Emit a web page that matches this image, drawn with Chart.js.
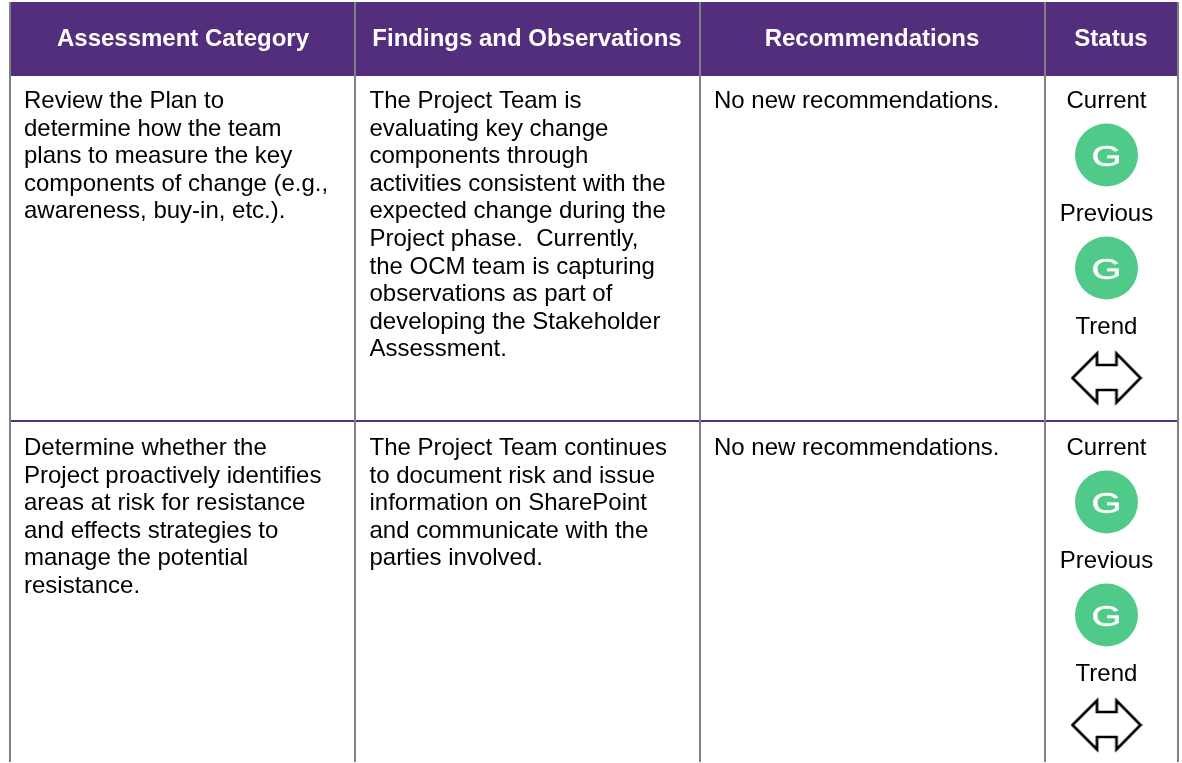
<!DOCTYPE html>
<html><head><meta charset="utf-8">
<style>html,body{margin:0;padding:0;background:#fff;overflow:hidden}canvas{display:block}</style>
<script src="https://cdn.jsdelivr.net/npm/chart.js@4"></script>
</head><body><canvas id="c" width="1182" height="763"></canvas>
<script>
// DATA
const headers = ["Assessment Category","Findings and Observations","Recommendations","Status"];
const assessment = [
 ["Review the Plan to","determine how the team","plans to measure the key","components of change (e.g.,","awareness, buy-in, etc.)."],
 ["Determine whether the","Project proactively identifies","areas at risk for resistance","and effects strategies to","manage the potential","resistance."]
];
const findings = [
 ["The Project Team is","evaluating key change","components through","activities consistent with the","expected change during the","Project phase.  Currently,","the OCM team is capturing","observations as part of","developing the Stakeholder","Assessment."],
 ["The Project Team continues","to document risk and issue","information on SharePoint","and communicate with the","parties involved."]
];
const recommendations = [["No new recommendations."],["No new recommendations."]];
const statusLabels = ["Current","Previous","Trend"];
const currentStatus = ["G","G"];
const previousStatus = ["G","G"];
const trendStatus = ["flat","flat"];

// LAYOUT
const columnEdges = [10,355,700,1045,1178];
const textLeft = [24,369.5,714];
const statusX = 1106.5;
const headerTop = 2, headerBottom = 75;
const rowLines = [75,420.5];
const rowTextTop = [108,455];
const lineStep = 27.6;
const slotLabel = [0,113,226];
const slotMark = [47,160,270];
const font = '"Liberation Sans", Arial, sans-serif';
const purple = '#522E7D', gray = '#808080', green = '#50CA88';

function arrowCanvas(){
  const c=document.createElement('canvas');c.width=72;c.height=56;
  const g=c.getContext('2d');g.strokeStyle='#000';g.lineWidth=2.7;g.lineJoin='miter';
  g.beginPath();
  [[2,28],[26.5,3.5],[26.5,15],[46,15],[46,3.5],[70,28],[46,52.5],[46,40],[26.5,40],[26.5,52.5]]
    .forEach((p,i)=>i?g.lineTo(p[0],p[1]):g.moveTo(p[0],p[1]));
  g.closePath();g.stroke();return c;
}
const circlePts = [], arrowPts = [];
rowTextTop.forEach((t,i)=>{
  if(currentStatus[i]) circlePts.push({x:statusX,y:t+slotMark[0],l:currentStatus[i]});
  if(previousStatus[i]) circlePts.push({x:statusX,y:t+slotMark[1],l:previousStatus[i]});
  if(trendStatus[i]) arrowPts.push({x:statusX,y:t+slotMark[2]});
});

const tablePlugin = {
  id:'table',
  beforeDatasetsDraw(ch){
    const {ctx,scales:{x,y}}=ch;
    ctx.save();ctx.fillStyle=purple;
    const x0=x.getPixelForValue(columnEdges[0]),x1=x.getPixelForValue(columnEdges[4]);
    const y0=y.getPixelForValue(headerTop),y1=y.getPixelForValue(headerBottom);
    ctx.fillRect(x0,y0,x1-x0,y1-y0);ctx.restore();
  },
  afterDraw(ch){
    const {ctx,scales:{x,y}}=ch;
    ctx.save();ctx.textBaseline='alphabetic';
    ctx.font='bold 24px '+font;ctx.fillStyle='#fff';ctx.textAlign='center';
    const headerCenters=[183,527,872,1111];
    headers.forEach((h,i)=>{
      ctx.fillText(h,x.getPixelForValue(headerCenters[i]),y.getPixelForValue(46));
    });
    ctx.font='24px '+font;ctx.fillStyle='#000';ctx.textAlign='left';
    [assessment,findings,recommendations].forEach((col,ci)=>{
      col.forEach((lines,r)=>lines.forEach((s,k)=>{
        ctx.fillText(s,x.getPixelForValue(textLeft[ci]),y.getPixelForValue(rowTextTop[r]+k*lineStep));
      }));
    });
    ctx.textAlign='center';
    rowTextTop.forEach(t=>statusLabels.forEach((s,k)=>{
      ctx.fillText(s,x.getPixelForValue(statusX),y.getPixelForValue(t+slotLabel[k]));
    }));
    ctx.fillStyle='#fff';ctx.strokeStyle='#fff';ctx.lineWidth=0.5;ctx.font='31px '+font;
    circlePts.forEach(p=>{
      ctx.save();
      ctx.translate(x.getPixelForValue(p.x),y.getPixelForValue(p.y+11));
      ctx.scale(1.24,0.96);ctx.fillText(p.l,0,0);ctx.strokeText(p.l,0,0);ctx.restore();
    });
    ctx.restore();
  }
};

new Chart(document.getElementById('c'),{
  type:'scatter',
  data:{datasets:[
    {label:'Status',data:circlePts,pointStyle:'circle',pointRadius:31.5,pointHoverRadius:31.5,backgroundColor:green,borderWidth:0},
    {label:'Trend',data:arrowPts,pointStyle:arrowCanvas(),pointRadius:28}
  ]},
  options:{
    responsive:false,animation:false,events:[],
    layout:{autoPadding:false,padding:{left:10,right:4,top:2,bottom:1}},
    plugins:{legend:{display:false},tooltip:{enabled:false},title:{display:false}},
    scales:{
      x:{type:'linear',min:10,max:1178,
        afterBuildTicks(s){s.ticks=columnEdges.map(v=>({value:v}));},
        ticks:{display:false},border:{display:false},
        grid:{color:gray,lineWidth:2,drawTicks:false,z:1}},
      y:{type:'linear',reverse:true,min:2,max:762,
        afterBuildTicks(s){s.ticks=rowLines.map(v=>({value:v}));},
        ticks:{display:false},border:{display:false},
        grid:{color:purple,lineWidth:2,drawTicks:false,z:0}}
    }
  },
  plugins:[tablePlugin]
});
</script></body></html>
